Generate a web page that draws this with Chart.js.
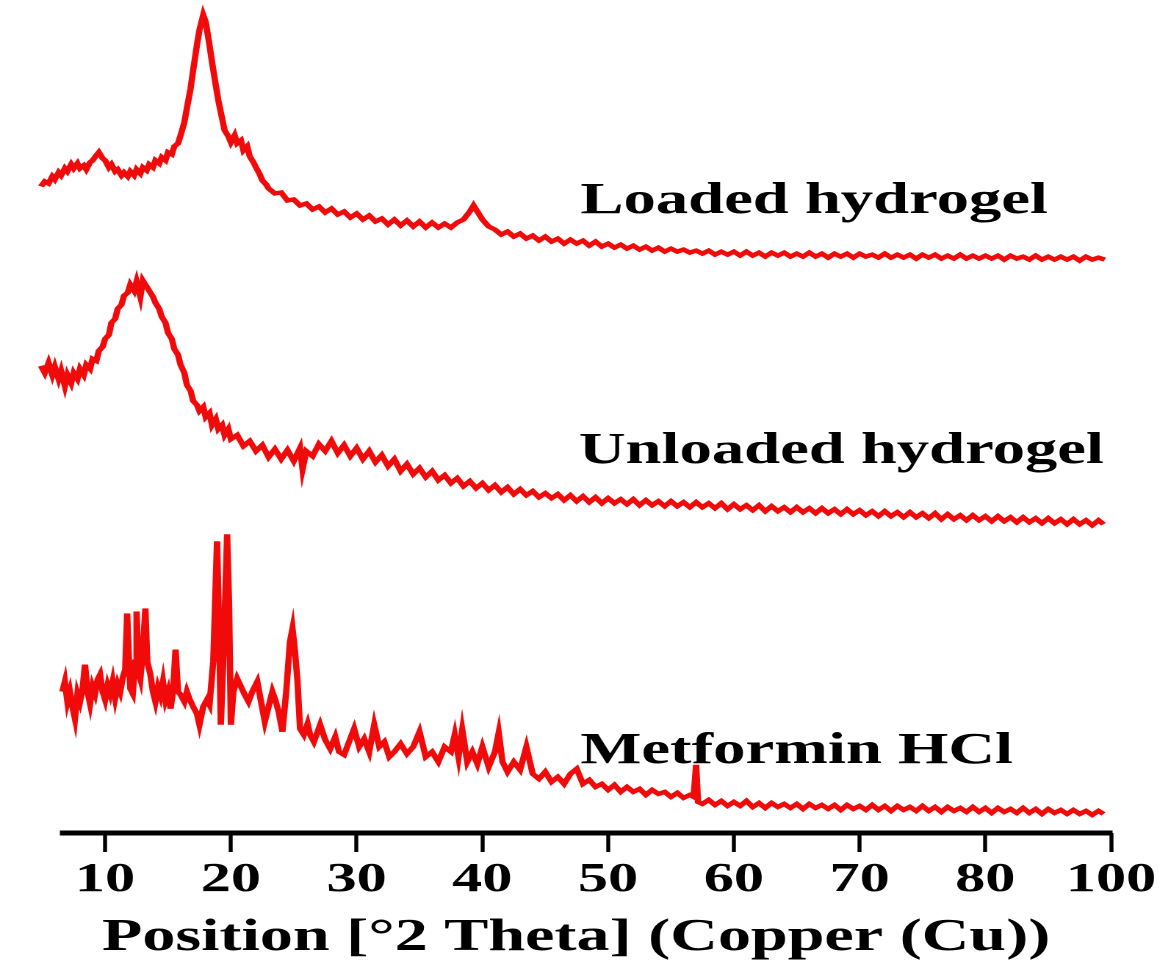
<!DOCTYPE html>
<html>
<head>
<meta charset="utf-8">
<title>XRD patterns</title>
<script src="https://cdn.jsdelivr.net/npm/chart.js"></script>
<style>
  html, body { margin: 0; padding: 0; background: #fff; overflow: hidden; }
  /* the original figure is stretched sideways, so the whole chart is too */
  #wrap { width: 795px; height: 966px; transform: scaleX(1.4692); transform-origin: 0 0; }
</style>
</head>
<body>
<div id="wrap"><canvas id="xrdChart" width="795" height="966"></canvas></div>
<script>
// 2-theta positions and intensities (a.u., offset so the three patterns stack)
const loadedTheta = [4.9,5.2,5.5,5.8,6.0,6.3,6.5,6.8,7.0,7.3,7.5,7.8,8.0,8.3,8.5,8.8,9.0,9.3,9.5,9.8,
  10.0,10.3,10.5,10.8,11.0,11.3,11.5,11.8,12.0,12.3,12.5,12.8,13.0,13.3,13.5,13.8,14.0,14.3,14.5,14.8,
  15.0,15.3,15.5,15.8,16.0,16.3,16.5,16.8,17.0,17.3,17.5,17.8,18.0,18.3,18.5,18.8,19.0,19.3,19.5,19.8,
  20.0,20.3,20.5,20.8,21.0,21.3,21.5,21.8,22.0,22.3,22.5,22.8,23.0,23.5,24.0,24.5,25.0,25.5,26.0,26.5,
  27.0,27.5,28.0,28.5,29.0,29.5,30.0,30.5,31.0,31.5,32.0,32.5,33.0,33.5,34.0,34.5,35.0,35.5,36.0,36.5,
  37.0,37.5,38.0,38.5,39.0,39.3,39.6,40.0,40.5,41.0,41.5,42.0,42.5,43.0,43.5,44.0,44.5,45.0,45.5,46.0,
  46.5,47.0,47.5,48.0,48.5,49.0,49.5,50.0,50.5,51.0,51.5,52.0,52.5,53.0,53.5,54.0,54.5,55.0,55.5,56.0,
  56.5,57.0,57.5,58.0,58.5,59.0,59.5,60.0,60.5,61.0,61.5,62.0,62.5,63.0,63.5,64.0,64.5,65.0,65.5,66.0,
  66.5,67.0,67.5,68.0,68.5,69.0,69.5,70.0,70.5,71.0,71.5,72.0,72.5,73.0,73.5,74.0,74.5,75.0,75.5,76.0,
  76.5,77.0,77.5,78.0,78.5,79.0,79.5,80.0,80.5,81.0,81.5,82.0,82.5,83.0,83.5,84.0,84.5,85.0,85.5,86.0,
  86.5,87.0,87.5,88.0,88.5,89.0,89.5];
const loadedCounts = [814,819,817,824,821,828,825,832,829,836,832,837,832,835,831,838,840,845,848,842,
  840,833,836,829,831,825,828,824,829,825,831,827,833,830,836,833,840,837,843,840,
  848,846,854,857,865,878,892,912,930,955,970,985,978,955,938,915,900,882,870,864,
  858,865,857,860,850,854,844,838,833,826,820,816,812,807,808,800,801,795,797,791,
  794,788,792,786,789,783,787,781,785,779,782,776,781,775,780,774,779,773,778,773,
  777,773,778,781,789,795,789,781,774,771,766,769,764,767,762,765,760,764,759,762,
  757,761,757,760,755,759,754,757,753,756,752,755,751,754,750,753,749,752,749,751,
  748,750,747,750,746,749,746,749,745,749,745,748,744,748,745,748,744,747,744,748,
  744,747,743,747,744,747,743,747,744,746,743,747,743,746,743,746,742,746,743,746,
  742,745,742,746,742,745,742,745,742,745,741,745,742,744,741,745,741,744,741,744,
  741,744,740,744,741,743,741];

const unloadedTheta = [4.9,5.2,5.5,5.8,6.0,6.3,6.5,6.8,7.0,7.3,7.5,7.8,8.0,8.3,8.5,8.8,9.0,9.3,9.5,9.8,
  10.0,10.3,10.5,10.8,11.0,11.3,11.5,11.8,12.0,12.3,12.5,12.8,13.0,13.3,13.5,13.8,14.0,14.3,14.5,14.8,
  15.0,15.3,15.5,15.8,16.0,16.3,16.5,16.8,17.0,17.3,17.5,17.8,18.0,18.3,18.5,18.8,19.0,19.3,19.5,19.8,
  20.0,20.5,21.0,21.5,22.0,22.5,23.0,23.5,24.0,24.5,25.0,25.5,25.7,26.0,26.5,27.0,27.5,28.0,28.5,29.0,
  29.5,30.0,30.5,31.0,31.5,32.0,32.5,33.0,33.5,34.0,34.5,35.0,35.5,36.0,36.5,37.0,37.5,38.0,38.5,39.0,
  39.5,40.0,40.5,41.0,41.5,42.0,42.5,43.0,43.5,44.0,44.5,45.0,45.5,46.0,46.5,47.0,47.5,48.0,48.5,49.0,
  49.5,50.0,50.5,51.0,51.5,52.0,52.5,53.0,53.5,54.0,54.5,55.0,55.5,56.0,56.5,57.0,57.5,58.0,58.5,59.0,
  59.5,60.0,60.5,61.0,61.5,62.0,62.5,63.0,63.5,64.0,64.5,65.0,65.5,66.0,66.5,67.0,67.5,68.0,68.5,69.0,
  69.5,70.0,70.5,71.0,71.5,72.0,72.5,73.0,73.5,74.0,74.5,75.0,75.5,76.0,76.5,77.0,77.5,78.0,78.5,79.0,
  79.5,80.0,80.5,81.0,81.5,82.0,82.5,83.0,83.5,84.0,84.5,85.0,85.5,86.0,86.5,87.0,87.5,88.0,88.5,89.0,
  89.4];
const unloadedCounts = [635,628,638,626,634,622,630,615,626,618,628,622,632,626,636,632,642,640,650,654,
  662,666,678,682,692,696,705,708,716,710,719,704,720,714,710,704,698,692,684,678,
  668,662,652,646,636,628,616,610,600,596,590,594,584,588,576,582,572,576,566,572,
  562,566,555,560,550,556,544,552,542,551,540,553,532,550,545,557,550,560,548,556,
  545,553,542,550,539,546,535,542,530,537,527,533,524,530,521,526,518,523,515,520,
  513,518,511,516,509,514,507,512,506,510,504,508,503,507,501,506,500,505,499,504,
  498,503,498,502,497,502,496,501,496,500,495,500,495,499,494,499,494,498,493,498,
  492,497,492,496,491,496,490,495,490,494,489,494,489,493,488,493,488,492,487,492,
  487,491,486,490,485,490,485,489,484,489,484,488,483,488,482,487,482,486,481,486,
  481,485,480,485,480,484,479,484,479,483,478,483,478,482,477,482,477,481,476,481,
  477];

const metforminTheta = [6.6,6.8,7.0,7.2,7.4,7.6,7.8,8.0,8.2,8.4,8.6,8.8,9.0,9.2,9.4,9.6,9.8,10.0,10.2,10.4,
  10.6,10.8,11.0,11.2,11.4,11.6,11.75,11.9,12.0,12.2,12.4,12.5,12.65,12.8,13.0,13.2,13.35,13.6,13.8,14.0,
  14.2,14.4,14.6,14.8,15.0,15.2,15.4,15.6,15.8,16.0,16.3,16.5,16.7,17.0,17.3,17.5,17.8,18.1,18.3,18.6,
  18.9,19.05,19.2,19.45,19.7,19.85,20.0,20.2,20.5,20.8,21.1,21.4,21.7,22.1,22.4,22.7,23.0,23.3,23.5,23.8,
  24.1,24.4,24.7,24.9,25.1,25.3,25.5,25.8,26.1,26.3,26.6,27.1,27.5,27.9,28.3,28.6,29.0,29.4,29.8,30.2,
  30.6,31.0,31.4,31.8,32.2,32.6,33.0,33.5,34.0,34.5,35.0,35.5,36.0,36.5,37.0,37.5,37.8,38.1,38.4,38.8,
  39.2,39.6,40.0,40.5,41.0,41.3,41.6,42.0,42.5,43.0,43.5,44.0,44.5,45.0,45.5,46.0,46.5,47.0,47.5,48.0,
  48.5,49.0,49.5,50.0,50.5,51.0,51.5,52.0,52.5,53.0,53.5,54.0,54.5,55.0,55.5,56.0,56.5,56.8,57.0,57.15,
  57.5,58.0,58.5,59.0,59.5,60.0,60.5,61.0,61.5,62.0,62.5,63.0,63.5,64.0,64.5,65.0,65.5,66.0,66.5,67.0,
  67.5,68.0,68.5,69.0,69.5,70.0,70.5,71.0,71.5,72.0,72.5,73.0,73.5,74.0,74.5,75.0,75.5,76.0,76.5,77.0,
  77.5,78.0,78.5,79.0,79.5,80.0,80.5,81.0,81.5,82.0,82.5,83.0,83.5,84.0,84.5,85.0,85.5,86.0,86.5,87.0,
  87.5,88.0,88.5,89.0,89.4];
const metforminCounts = [310,320,300,310,295,283,308,300,312,337,310,298,315,308,322,327,310,302,316,308,
  320,304,317,310,324,332,388,340,313,308,340,390,330,323,350,393,340,327,310,300,
  314,306,320,302,310,293,310,352,310,307,300,310,303,295,288,277,295,302,297,340,
  460,380,277,360,467,400,277,310,323,315,307,300,310,320,300,280,295,310,303,290,
  270,310,360,373,350,320,273,267,278,267,260,277,262,253,265,250,247,260,273,255,
  263,250,277,255,260,245,250,258,248,255,270,245,250,240,255,250,267,245,272,240,
  250,238,255,235,250,269,240,230,240,232,255,228,223,230,220,225,218,228,233,218,
  222,215,218,212,217,210,215,210,213,207,212,208,210,205,209,204,207,205,237,200,
  198,202,197,201,196,200,196,201,195,199,194,199,195,198,194,198,193,198,194,197,
  193,197,192,197,193,196,192,197,192,196,191,196,192,195,191,196,191,195,190,195,
  191,194,190,195,190,194,189,194,190,193,189,194,189,193,188,193,189,192,188,192,
  188,191,187,191,188];

const seriesNames = ['Loaded hydrogel', 'Unloaded hydrogel', 'Metformin HCl'];
const tickValues = [10, 20, 30, 40, 50, 60, 70, 80, 90];
const tickLabels = ['10', '20', '30', '40', '50', '60', '70', '80', '100'];
const axisTitle = 'Position [\u00b02 Theta] (Copper (Cu))';

const serifBold = '"Liberation Serif", "Times New Roman", serif';

function toPoints(xs, ys) {
    return xs.map((x, i) => ({ x: x, y: ys[i] }));
}

// names written next to each trace
const seriesLabels = {
    id: 'seriesLabels',
    afterDatasetsDraw(chart) {
        const ctx = chart.ctx;
        const spots = [[395, 213], [394, 463], [395, 763]];
        ctx.save();
        ctx.font = 'bold 44px ' + serifBold;
        ctx.fillStyle = '#000';
        ctx.textAlign = 'left';
        ctx.textBaseline = 'alphabetic';
        seriesNames.forEach((name, i) => ctx.fillText(name, spots[i][0], spots[i][1]));
        ctx.restore();
    }
};

// the x axis line starts a little after the traces do
const axisLine = {
    id: 'axisLine',
    afterDraw(chart) {
        const ctx = chart.ctx;
        const xs = chart.scales.x;
        const y = chart.chartArea.bottom;
        ctx.save();
        ctx.strokeStyle = '#000';
        ctx.lineWidth = 5;
        ctx.beginPath();
        ctx.moveTo(xs.getPixelForValue(6.4), y);
        ctx.lineTo(xs.getPixelForValue(90) + 1, y);
        ctx.stroke();
        ctx.restore();
    }
};

const lineStyle = {
    borderColor: '#f00a0a',
    borderWidth: 4.3,
    pointRadius: 0,
    tension: 0,
    clip: false,
    fill: false
};

new Chart(document.getElementById('xrdChart'), {
    type: 'line',
    data: {
        datasets: [
            Object.assign({ label: seriesNames[0], data: toPoints(loadedTheta, loadedCounts) }, lineStyle),
            Object.assign({ label: seriesNames[1], data: toPoints(unloadedTheta, unloadedCounts) }, lineStyle),
            Object.assign({ label: seriesNames[2], data: toPoints(metforminTheta, metforminCounts) }, lineStyle)
        ]
    },
    options: {
        responsive: false,
        animation: false,
        devicePixelRatio: 2,
        layout: { padding: { left: 27.9, right: 37, top: 0, bottom: 0 } },
        plugins: {
            legend: { display: false },
            tooltip: { enabled: false }
        },
        scales: {
            x: {
                type: 'linear',
                min: 4.9,
                max: 90,
                afterBuildTicks: scale => { scale.ticks = tickValues.map(v => ({ value: v })); },
                ticks: {
                    callback: (value, index) => tickLabels[index],
                    color: '#000',
                    autoSkip: false,
                    maxRotation: 0,
                    padding: 8,
                    font: { family: serifBold, size: 41, weight: 'bold', lineHeight: 1 }
                },
                grid: {
                    drawOnChartArea: false,
                    drawTicks: true,
                    tickLength: 19,
                    tickWidth: 2.7,
                    tickColor: '#000',
                    color: '#000'
                },
                border: { display: false },
                title: {
                    display: true,
                    text: axisTitle,
                    color: '#000',
                    font: { family: serifBold, size: 45, weight: 'bold', lineHeight: 1 },
                    padding: { top: 7, bottom: 5 }
                }
            },
            y: {
                display: false,
                min: 169,
                max: 1000
            }
        }
    },
    plugins: [seriesLabels, axisLine]
});
</script>
</body>
</html>
